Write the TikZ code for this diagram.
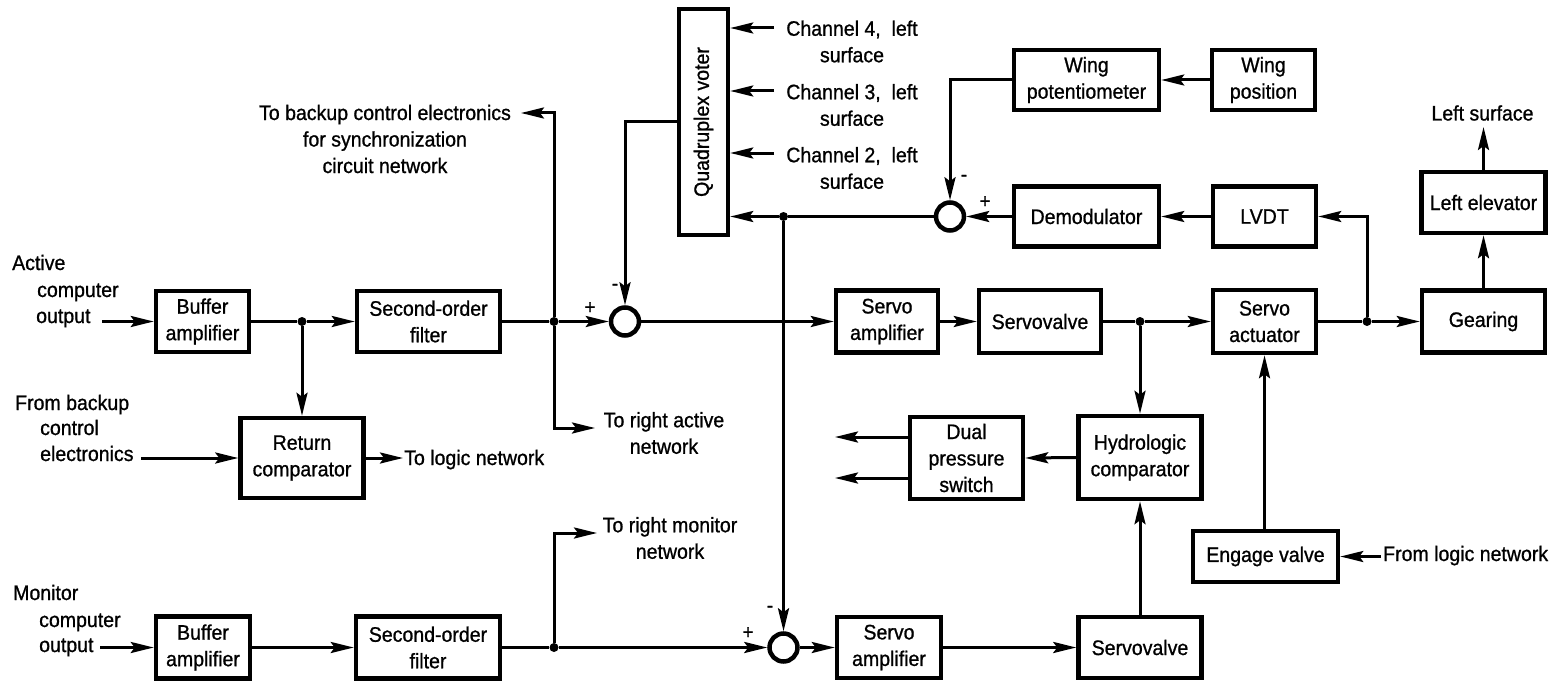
\documentclass[tikz,border=0pt]{standalone}
\usepackage{fontspec}
\usepackage{graphicx}
\setmainfont{Liberation Sans}[FakeStretch=0.93,FakeBold=0.9]
\usetikzlibrary{arrows.meta,calc}
\newcommand\lblfont{\fontsize{21bp}{26.5bp}\selectfont}
\newcommand\sgnfont{\fontsize{20bp}{22bp}\selectfont}
\tikzset{
  blk/.style={draw, line width=4.5bp, align=center, inner sep=0pt, font=\lblfont},
  lbl/.style={align=center, inner sep=0pt, font=\lblfont},
  sgn/.style={inner sep=0pt, font=\sgnfont},
  con/.style={line width=3bp},
  arr/.style={con, -{Stealth[length=23bp,width=11bp,inset=4bp]}},
  sumc/.style={circle, draw, line width=4.5bp, minimum size=28bp, inner sep=0pt},
  jdot/.style={circle, fill, inner sep=0pt, minimum size=9bp},
}
\begin{document}
\begin{tikzpicture}[x=1bp,y=-1bp]
\useasboundingbox (0,0) rectangle (1566,683);
% ---- blocks
\node[blk, minimum width=93bp, minimum height=61bp] (ba1) at (202.5,321.5) {Buffer\\amplifier};
\node[blk, minimum width=143bp, minimum height=61bp] (sof1) at (428.5,321.5) {Second-order\\filter};
\node[blk, minimum width=123bp, minimum height=80bp] (rc) at (302,458) {Return\\comparator};
\node[sumc] (sum1) at (625,321.5) {};
\node[blk, minimum width=102bp, minimum height=62bp] (sa1) at (887,321.5) {Servo\\amplifier};
\node[blk, minimum width=122bp, minimum height=63bp] (sv1) at (1040,321.5) {Servovalve};
\node[blk, minimum width=103bp, minimum height=63bp] (act) at (1264.5,321.5) {Servo\\actuator};
\node[blk, minimum width=123bp, minimum height=62bp] (gear) at (1483.5,321.5) {Gearing};
\node[blk, minimum width=124bp, minimum height=61bp] (le) at (1483.5,202.5) {Left elevator};
\node[blk, minimum width=103bp, minimum height=60bp] (lvdt) at (1264.5,216.5) {LVDT};
\node[blk, minimum width=145bp, minimum height=60bp] (demod) at (1086.5,216.5) {Demodulator};
\node[blk, minimum width=145bp, minimum height=60bp] (wpot) at (1086.5,80) {Wing\\potentiometer};
\node[blk, minimum width=103bp, minimum height=60bp] (wpos) at (1263.5,80) {Wing\\position};
\node[sumc] (sum2) at (950,216.5) {};
\node[blk, minimum width=49bp, minimum height=226bp] (voter) at (703.5,122) {\rotatebox{90}{Quadruplex voter}};
\node[blk, minimum width=123bp, minimum height=83bp] (hyd) at (1140,457.5) {Hydrologic\\comparator};
\node[blk, minimum width=113bp, minimum height=82bp] (dps) at (966.5,458) {Dual\\pressure\\switch};
\node[blk, minimum width=145bp, minimum height=51bp] (eng) at (1265.5,556.5) {Engage valve};
\node[blk, minimum width=123bp, minimum height=61bp] (sv2) at (1140,647.5) {Servovalve};
\node[blk, minimum width=104bp, minimum height=61bp] (sa2) at (889,647.5) {Servo\\amplifier};
\node[sumc] (sum3) at (783.5,647.5) {};
\node[blk, minimum width=144bp, minimum height=62bp] (sof2) at (428,647.5) {Second-order\\filter};
\node[blk, minimum width=94bp, minimum height=62bp] (ba2) at (203,647.5) {Buffer\\amplifier};
% ---- junctions
\node[jdot] (j1) at (302,321.5) {};
\node[jdot] (j2) at (554,321.5) {};
\node[jdot] (j3) at (783.5,216.5) {};
\node[jdot] (j4) at (1140,321.5) {};
\node[jdot] (j5) at (1367,321.5) {};
\node[jdot] (j6) at (554,647.5) {};
% ---- text labels
\node[lbl, anchor=base west] (tact) at (12,270) {Active};
\node[lbl, anchor=base west] (tcomp) at (37,297) {computer};
\node[lbl, anchor=base west] (tout) at (36,323) {output};
\node[lbl, anchor=base west] (tfb1) at (15,410) {From backup};
\node[lbl, anchor=base west] (tfb2) at (40,435) {control};
\node[lbl, anchor=base west] (tfb3) at (40,461) {electronics};
\node[lbl, anchor=base west] (tlog) at (404,465) {To logic network};
\node[lbl] (tbk) at (385,139) {To backup control electronics\\for synchronization\\circuit network};
\node[lbl] (tra) at (664,433) {To right active\\network};
\node[lbl] (trm) at (670,538) {To right monitor\\network};
\node[lbl] (tc4) at (852,41.5) {Channel 4,~~left\\surface};
\node[lbl] (tc3) at (852,105) {Channel 3,~~left\\surface};
\node[lbl] (tc2) at (852,168) {Channel 2,~~left\\surface};
\node[lbl] (tls) at (1482.5,113) {Left surface};
\node[lbl, anchor=base west] (tfl) at (1383,561) {From logic network};
\node[lbl, anchor=base west] (tmo1) at (13,600) {Monitor};
\node[lbl, anchor=base west] (tmo2) at (39,627) {computer};
\node[lbl, anchor=base west] (tmo3) at (39,652) {output};
% ---- signs
\node[sgn] (p1) at (590,308) {+};
\node[sgn] (m1) at (615,287) {-};
\node[sgn] (m2) at (964,178) {-};
\node[sgn] (p2) at (985,202) {+};
\node[sgn] (m3) at (770,609) {-};
\node[sgn] (p3) at (748,633) {+};
% ---- free ends
\coordinate (ain) at (102,321.5);
\coordinate (fb) at (141,458);
\coordinate (tl) at (403,458);
\coordinate (bk) at (521,113);
\coordinate (ra) at (595,428);
\coordinate (rm) at (597,533);
\coordinate (lsc) at (1483.5,127);
\coordinate (c4) at (774,28);
\coordinate (c3) at (774,91);
\coordinate (c2) at (774,153);
\coordinate (ain2) at (100,647.5);
\coordinate (o1) at (835,437);
\coordinate (o2) at (835,478);
\coordinate (fl) at (1381,556.5);
% ---- connectors
\draw[arr] (ain) -- (ba1.west);
\draw[con] (ba1.east) -- (j1);
\draw[arr] (j1) -- (sof1.west);
\draw[arr] (j1) -- (rc.north);
\draw[arr] (fb) -- (rc.west);
\draw[arr] (rc.east) -- (tl);
\draw[con] (sof1.east) -- (j2);
\draw[arr] (j2) -- (sum1.west);
\draw[arr] (j2) |- (bk);
\draw[arr] (j2) |- (ra);
\draw[arr] (voter.west) -| (sum1.north);
\draw[arr] (sum1.east) -- (sa1.west);
\draw[arr] (sa1.east) -- (sv1.west);
\draw[con] (sv1.east) -- (j4);
\draw[arr] (j4) -- (act.west);
\draw[arr] (j4) -- (hyd.north);
\draw[con] (act.east) -- (j5);
\draw[arr] (j5) -- (gear.west);
\draw[arr] (j5) |- (lvdt.east);
\draw[arr] (gear.north) -- (le.south);
\draw[arr] (le.north) -- (lsc);
\draw[arr] (lvdt.west) -- (demod.east);
\draw[arr] (demod.west) -- (sum2.east);
\draw[arr] (wpos.west) -- (wpot.east);
\draw[arr] (wpot.west) -| (sum2.north);
\draw[con] (sum2.west) -- (j3);
\draw[arr] (j3) -- (voter.east |- j3);
\draw[arr] (j3) -- (sum3.north);
\draw[arr] (c4) -- (c4 -| voter.east);
\draw[arr] (c3) -- (c3 -| voter.east);
\draw[arr] (c2) -- (c2 -| voter.east);
\draw[arr] (ain2) -- (ba2.west);
\draw[arr] (ba2.east) -- (sof2.west);
\draw[con] (sof2.east) -- (j6);
\draw[arr] (j6) -- (sum3.west);
\draw[arr] (j6) |- (rm);
\draw[arr] (sum3.east) -- (sa2.west);
\draw[arr] (sa2.east) -- (sv2.west);
\draw[arr] (sv2.north) -- (hyd.south);
\draw[arr] (hyd.west) -- (dps.east);
\draw[arr] (dps.west |- o1) -- (o1);
\draw[arr] (dps.west |- o2) -- (o2);
\draw[arr] (eng.north -| act.south) -- (act.south);
\draw[arr] (fl) -- (eng.east);
\end{tikzpicture}
\end{document}
